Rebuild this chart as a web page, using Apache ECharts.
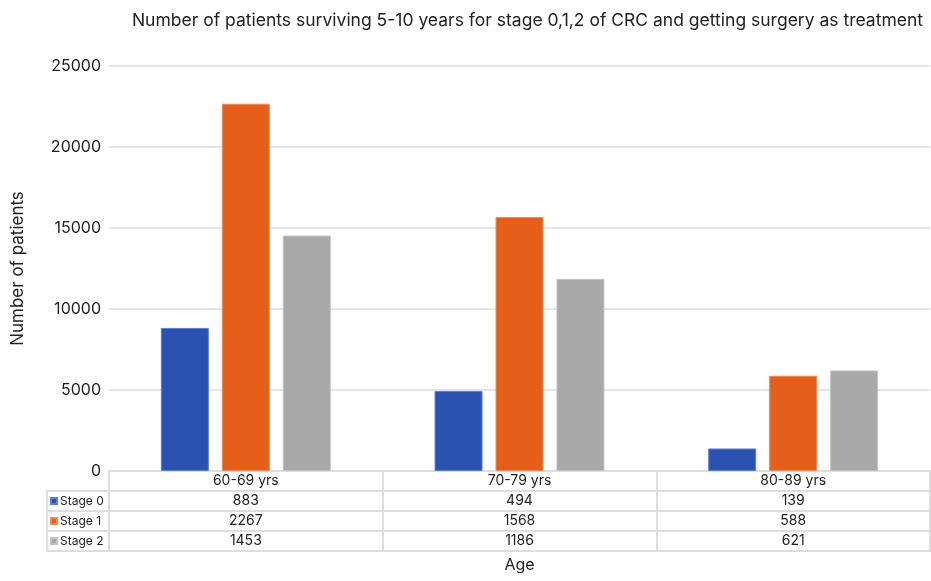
<!DOCTYPE html>
<html>
<head>
<meta charset="utf-8">
<script src="https://cdn.jsdelivr.net/npm/echarts@6/dist/echarts.min.js"></script>
<style>
  html, body { margin: 0; padding: 0; background: #fff; }
  #chart { width: 931px; height: 581px; }
</style>
</head>
<body>
<div id="chart"></div>
<script>
// Age groups along the category axis
const ageGroups = ['60-69 yrs', '70-79 yrs', '80-89 yrs'];

// Patient counts per stage (as listed in the data table)
const stage0 = [883, 494, 139];
const stage1 = [2267, 1568, 588];
const stage2 = [1453, 1186, 621];

const seriesNames = ['Stage 0', 'Stage 1', 'Stage 2'];

// Value-axis tick labels, one per gridline from the bottom
const yTickLabels = ['0', '5000', '10000', '15000', '20000', '25000'];

const FONT = 'Inter, "Liberation Sans", Arial, sans-serif';
const COLORS = ['#2A52B0', '#E55E1A', '#A8A8A8'];
const BORDERS = ['#5C7FD0', '#F08A55', '#C4C4C4'];
const LINE = '#DDDDDD';
const TEXT = '#222222';

// layout of the plot area and the data table under it
const GRID_LEFT = 109, GRID_RIGHT = 1, GRID_TOP = 66, GRID_BOTTOM = 110;
const ROW_H = 20;
const KEY_LEFT = 47;

const chartEl = document.getElementById('chart');
const chart = echarts.init(chartEl, null, { renderer: 'canvas' });
const W = 931, H = 581;
const zeroY = H - GRID_BOTTOM;

const rows = [stage0, stage1, stage2];

// one category axis per table row: the header row plus a row per stage
const xAxes = [{
  type: 'category',
  data: ageGroups,
  position: 'bottom',
  offset: 0,
  axisLine: { show: true, lineStyle: { color: LINE, width: 2 } },
  axisTick: { show: true, length: ROW_H, lineStyle: { color: LINE, width: 2 } },
  axisLabel: { color: TEXT, fontSize: 14, fontFamily: FONT, margin: 3 },
  splitLine: { show: false }
}];
rows.forEach((vals, i) => {
  xAxes.push({
    type: 'category',
    data: vals.map(String),
    position: 'bottom',
    offset: ROW_H * (i + 1),
    axisLine: { show: true, lineStyle: { color: LINE, width: 2 } },
    axisTick: { show: true, length: ROW_H, lineStyle: { color: LINE, width: 2 } },
    axisLabel: { color: TEXT, fontSize: 14, fontFamily: FONT, margin: 3 },
    splitLine: { show: false }
  });
});
// closing line of the table, carrying the axis title
xAxes.push({
  type: 'category',
  data: ageGroups,
  position: 'bottom',
  offset: ROW_H * 4,
  axisLine: { show: true, lineStyle: { color: LINE, width: 2 } },
  axisTick: { show: false },
  axisLabel: { show: false },
  name: 'Age',
  nameLocation: 'middle',
  nameGap: 6,
  nameTextStyle: { color: TEXT, fontSize: 16, fontFamily: FONT }
});

const series = rows.map((vals, i) => ({
  name: seriesNames[i],
  type: 'bar',
  xAxisIndex: 0,
  data: vals,
  barWidth: 48,
  barGap: '27%',
  itemStyle: { color: COLORS[i], borderColor: BORDERS[i], borderWidth: 1 },
  emphasis: { disabled: true }
}));

// key column to the left of the stage rows
const keyRight = GRID_LEFT;
const keyTop = zeroY + ROW_H;
const graphics = [
  {
    type: 'rect',
    shape: { x: KEY_LEFT, y: keyTop, width: keyRight - KEY_LEFT, height: ROW_H * 3 },
    style: { fill: 'none', stroke: LINE, lineWidth: 2 },
    silent: true
  },
  {
    type: 'line',
    shape: { x1: KEY_LEFT, y1: keyTop + ROW_H, x2: keyRight, y2: keyTop + ROW_H },
    style: { stroke: LINE, lineWidth: 2 },
    silent: true
  },
  {
    type: 'line',
    shape: { x1: KEY_LEFT, y1: keyTop + ROW_H * 2, x2: keyRight, y2: keyTop + ROW_H * 2 },
    style: { stroke: LINE, lineWidth: 2 },
    silent: true
  }
];

chart.setOption({
  backgroundColor: '#ffffff',
  animation: false,
  color: COLORS,
  title: {
    text: 'Number of patients surviving 5-10 years for stage 0,1,2 of CRC and getting surgery as treatment',
    right: 3,
    top: 7,
    textStyle: { color: TEXT, fontSize: 17.5, fontWeight: 'normal', fontFamily: FONT }
  },
  legend: {
    orient: 'vertical',
    left: KEY_LEFT + 3,
    top: keyTop,
    padding: 0,
    itemWidth: 6,
    itemHeight: 6,
    itemGap: 0,
    icon: 'rect',
    selectedMode: false,
    data: seriesNames,
    textStyle: { color: TEXT, fontSize: 12, fontFamily: FONT, lineHeight: ROW_H, padding: [0, 0, 0, -2] }
  },
  grid: {
    left: GRID_LEFT, right: GRID_RIGHT, top: GRID_TOP, bottom: GRID_BOTTOM,
    containLabel: false, outerBoundsMode: 'none'
  },
  xAxis: xAxes,
  yAxis: {
    type: 'value',
    min: 0,
    max: 2500,
    interval: 500,
    name: 'Number of patients',
    nameLocation: 'middle',
    nameGap: 83,
    nameRotate: 90,
    nameTextStyle: { color: TEXT, fontSize: 17, fontFamily: FONT },
    axisLine: { show: false },
    axisTick: { show: false },
    axisLabel: {
      color: TEXT, fontSize: 16, fontFamily: FONT, margin: 8,
      formatter: (v, idx) => yTickLabels[idx]
    },
    splitLine: { lineStyle: { color: LINE, width: 1.5 } }
  },
  series: series,
  graphic: graphics
});
</script>
</body>
</html>
